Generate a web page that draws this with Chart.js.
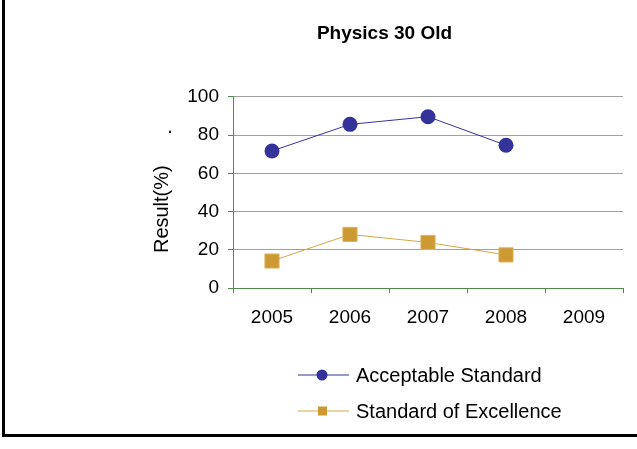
<!DOCTYPE html>
<html>
<head>
<meta charset="utf-8">
<script src="https://cdn.jsdelivr.net/npm/chart.js@4"></script>
<style>
  body { margin: 0; background: #fff; }
  #wrap { position: relative; width: 637px; height: 449px; }
  #frame {
    position: absolute; left: 2px; top: 0; width: 635px; height: 434px;
    border-left: 3px solid #000; border-bottom: 3px solid #000;
  }
  #chart { position: absolute; left: 0; top: 0; }
</style>
</head>
<body>
<div id="wrap">
  <div id="frame"></div>
  <canvas id="chart" width="637" height="449"></canvas>
</div>
<script>
const years = ['2005', '2006', '2007', '2008', '2009'];
const acceptable = [71.7, 85.6, 89.6, 74.7, null];
const excellence = [14.2, 28.1, 23.9, 17.4, null];
const seriesNames = ['Acceptable Standard', 'Standard of Excellence'];

const axisGreen = '#4f8a4f';
const gridGray = '#a0a0a0';
const font = 'Liberation Sans, Arial, sans-serif';

// legend stacked under the axis, like the excel one
const stackedLegend = {
  id: 'stackedLegend',
  afterDraw(chart) {
    const ctx = chart.ctx;
    ctx.save();
    chart.data.datasets.forEach((ds, i) => {
      const y = 375 + i * 36;
      ctx.strokeStyle = ds.borderColor;
      ctx.lineWidth = 1;
      ctx.beginPath();
      ctx.moveTo(298, y);
      ctx.lineTo(349, y);
      ctx.stroke();
      ctx.fillStyle = ds.pointBackgroundColor;
      if (ds.pointStyle === 'rect') {
        ctx.fillRect(318, y - 4.5, 9, 9);
      } else {
        ctx.beginPath();
        ctx.arc(322, y, 5.5, 0, Math.PI * 2);
        ctx.fill();
      }
      ctx.fillStyle = '#000';
      ctx.font = '20px ' + font;
      ctx.textBaseline = 'middle';
      ctx.fillText(ds.label, 356, y + 1);
    });
    // stray dot left of the axis title
    ctx.font = '20px ' + font;
    ctx.textAlign = 'center';
    ctx.fillText('.', 170, 127);
    ctx.restore();
  }
};

new Chart(document.getElementById('chart'), {
  type: 'line',
  data: {
    labels: years,
    datasets: [{
      label: seriesNames[0],
      data: acceptable,
      borderColor: '#333399',
      borderWidth: 1,
      pointStyle: 'circle',
      pointRadius: 7.5,
      pointHoverRadius: 7.5,
      pointBackgroundColor: '#333399',
      pointBorderColor: '#333399',
      pointBorderWidth: 0
    }, {
      label: seriesNames[1],
      data: excellence,
      borderColor: '#d4a647',
      borderWidth: 1,
      pointStyle: 'rect',
      pointRadius: 10,
      pointHoverRadius: 10,
      pointBackgroundColor: '#cc9933',
      pointBorderColor: '#e0b458',
      pointBorderWidth: 1
    }]
  },
  options: {
    responsive: false,
    animation: false,
    layout: { padding: { left: 146, right: 14, top: 0, bottom: 107 } },
    plugins: {
      legend: { display: false },
      tooltip: { enabled: false },
      title: {
        display: true,
        text: 'Physics 30 Old',
        color: '#000',
        font: { family: font, size: 19, weight: 'bold' },
        padding: { top: 22, bottom: 52 }
      }
    },
    scales: {
      y: {
        min: 0,
        max: 100,
        ticks: { stepSize: 20, color: '#000', padding: 9, font: { family: font, size: 19 } },
        grid: { color: gridGray, tickColor: axisGreen, tickLength: 5 },
        border: { color: axisGreen },
        title: {
          display: true,
          text: 'Result(%)      ',
          color: '#000',
          font: { family: font, size: 20 },
          padding: { top: 4, bottom: 4 }
        },
        afterFit(scale) { scale.width = 87; }
      },
      x: {
        z: 1,
        offset: true,
        ticks: { color: '#000', padding: 13, font: { family: font, size: 19 } },
        grid: { offset: true, drawOnChartArea: false, color: axisGreen, tickLength: 5 },
        border: { color: axisGreen }
      }
    }
  },
  plugins: [stackedLegend]
});
</script>
</body>
</html>
